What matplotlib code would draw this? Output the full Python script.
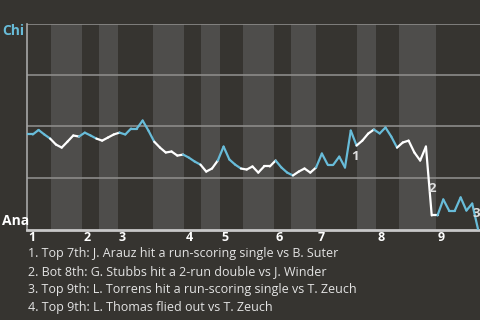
import matplotlib
matplotlib.use('Agg')
import matplotlib.pyplot as plt
import numpy as np

# win probability for Chi (percent), one value per play
win_prob = [46.1, 46.1, 48.3, 46.1, 44.1, 41.2, 39.7, 42.6, 45.6, 45.1,
            47.0, 45.6, 44.1, 43.1, 44.6, 46.1, 47.0, 46.1, 49.0, 49.0,
            52.9, 48.0, 42.6, 39.7, 37.3, 37.8, 35.8, 36.3, 34.8, 32.9,
            31.4, 28.0, 29.5, 33.4, 40.2, 33.9, 31.4, 29.5, 29.0, 30.5,
            27.5, 30.5, 30.5, 33.4, 30.0, 27.5, 26.1, 28.0, 29.5, 27.5,
            30.0, 36.8, 31.4, 31.4, 35.3, 30.0, 48.0, 40.7, 43.1, 46.5,
            48.5, 46.6, 49.5, 45.1, 39.7, 42.2, 43.1, 37.3, 33.4, 40.2,
            6.6, 6.6, 14.4, 9.0, 9.0, 15.4, 9.0, 12.4, 0.0]

# play positions where each half inning starts (top 1st, bot 1st, ...)
half_starts = [0, 4.2, 9.5, 12.5, 15.7, 21.8, 27.2, 30.1, 33.4, 37.4,
               42.7, 45.7, 50.0, 57.1, 60.4, 64.4, 70.8]
last_play = 78.35
innings = ['1', '2', '3', '4', '5', '6', '7', '8', '9']

events = ['1', '2', '3']
event_plays = [56, 70, 77]
event_offsets = [(4, -26), (1, 27), (4, -10)]

notes = ['1. Top 7th: J. Arauz hit a run-scoring single vs B. Suter',
         '2. Bot 8th: G. Stubbs hit a 2-run double vs J. Winder',
         '3. Top 9th: L. Torrens hit a run-scoring single vs T. Zeuch',
         '4. Top 9th: L. Thomas flied out vs T. Zeuch']

bg = '#363430'
band = '#4e4d4b'
blue = '#68bcd9'

plt.rcParams['font.family'] = ['Open Sans', 'DejaVu Sans']

fig = plt.figure(figsize=(4.8, 3.2), dpi=100, facecolor=bg)
ax = fig.add_axes([27 / 480, 90 / 320, 453 / 480, 206 / 320])
ax.set_facecolor(bg)

edges = half_starts + [last_play]
for k in range(len(half_starts)):
    if k % 2 == 1:
        ax.axvspan(edges[k], edges[k + 1], color=band, lw=0, zorder=0)

for gy in [25, 50, 75, 100]:
    ax.axhline(gy, color='#8c8b89', lw=1.2, zorder=1)

# colour each segment by the half inning it belongs to
plays = np.arange(len(win_prob))
for i in range(1, len(win_prob)):
    mid = (plays[i - 1] + plays[i]) / 2
    k = np.searchsorted(half_starts, mid, side='right') - 1
    col = blue if k % 2 == 0 else 'white'
    ax.plot(plays[i - 1:i + 1], win_prob[i - 1:i + 1], color=col, lw=1.6,
            solid_capstyle='round', zorder=3)

for lab, p, off in zip(events, event_plays, event_offsets):
    ax.annotate(lab, (p, win_prob[p]), xytext=off, textcoords='offset pixels',
                ha='center', va='center', color='#dddddd', fontsize=9.5,
                fontweight='bold', zorder=4)

ax.set_xlim(0, last_play)
ax.set_ylim(-0.5, 100)
for s in ['top', 'right']:
    ax.spines[s].set_visible(False)
ax.spines['left'].set_color('#a8a8a8')
ax.spines['left'].set_linewidth(1.2)
ax.spines['bottom'].set_color('#c8c8c8')
ax.spines['bottom'].set_linewidth(2)
ax.set_xticks([])
ax.set_yticks([])

for lab, k in zip(innings, range(0, len(half_starts), 2)):
    ax.text(half_starts[k] + 0.2, -4, lab, ha='left', va='center',
            color='white', fontsize=9, fontweight='bold', clip_on=False)

fig.text(2 / 480, 1 - 31 / 320, 'Chi', color=blue, fontsize=10,
         fontweight='bold', va='center', ha='left')
fig.text(2 / 480, 1 - 221 / 320, 'Ana', color='white', fontsize=10,
         fontweight='bold', va='center', ha='left')

for j, line in enumerate(notes):
    fig.text(28 / 480, 1 - (254 + 18 * j) / 320, line, color='#e4e4e4',
             fontsize=9, va='center', ha='left')

fig.savefig('out.png', dpi=100, facecolor=bg)
